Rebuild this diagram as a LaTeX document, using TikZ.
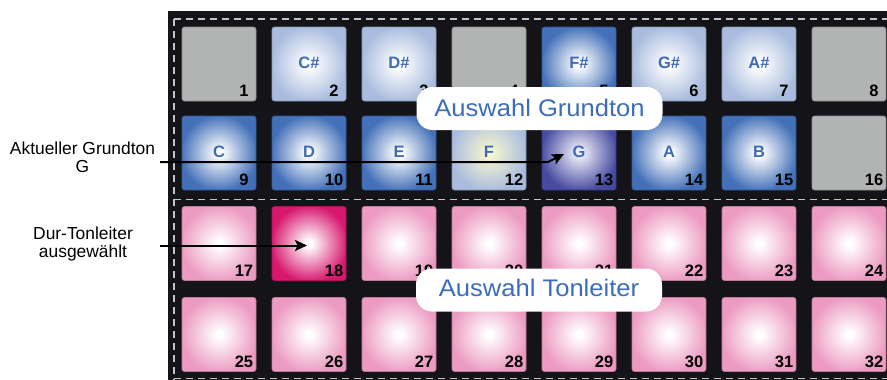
\documentclass[tikz,border=0pt]{standalone}
\usepackage{fontspec}
\setmainfont{Liberation Sans}
\newfontfamily\callfont[FakeStretch=1.065]{Liberation Sans}
\usetikzlibrary{arrows.meta}
\definecolor{panel}{HTML}{141418}
\definecolor{dashc}{HTML}{C4C4C4}
\definecolor{padgray}{HTML}{B2B4B4}
\definecolor{lblue}{HTML}{A9BCDE}
\definecolor{dblue}{HTML}{4370B8}
\definecolor{gblue}{HTML}{464BA0}
\definecolor{gcenter}{HTML}{EEEEF8}
\definecolor{pinkp}{HTML}{EC9AC1}
\definecolor{magp}{HTML}{D8186F}
\definecolor{notec}{HTML}{3F6AB5}
\definecolor{callc}{HTML}{3D6DB8}
\definecolor{fcenter}{HTML}{F6F6CF}
\colorlet{padin}{white}
\colorlet{padout}{gray}
\pgfdeclareradialshading[padin,padout]{padglow}{\pgfpoint{0bp}{0bp}}{color(0bp)=(padin); color(2bp)=(padin); color(26bp)=(padout); color(50bp)=(padout)}
\tikzset{
  pad/.style 2 args={shape=rectangle, rounded corners=2.5pt, minimum width=74pt, minimum height=74pt,
    inner sep=0pt, outer sep=0pt, /utils/exec={\colorlet{padin}{#1}\colorlet{padout}{#2}}, shade, shading=padglow,
    draw=padout!80!black, line width=0.6pt},
  num/.style={anchor=base, inner sep=0pt, font=\fontsize{16.5}{18}\selectfont\bfseries, text=black},
  note/.style={anchor=base, inner sep=0pt, font=\fontsize{16.5}{18}\selectfont\bfseries, text=notec},
  dashline/.style={draw=dashc, line width=1.8pt, dash pattern=on 7pt off 5pt},
  callout/.style={fill=white, rounded corners=16pt, minimum width=246pt, minimum height=43pt, inner sep=0pt,
    text=callc, font=\callfont\fontsize{24}{26}\selectfont, text height=17pt},
  sidelabel/.style={align=center, inner sep=0pt, font=\fontsize{17.4}{17.7}\selectfont, text=black},
  pointer/.style={draw=black, line width=2pt, -{Stealth[length=12pt,width=11pt,inset=2.5pt]}},
}
\begin{document}
\begin{tikzpicture}[x=1pt,y=-1pt]
\useasboundingbox (0,0) rectangle (887,380);
\clip (0,0) rectangle (887,380);
\fill[panel] (168,11) rectangle (900,395);
\draw[dashline] (174,19) -- (900,19);
\draw[dashline] (174,19) -- (174,390);
\draw[dashline] (174,199.5) -- (900,199.5);
\draw[dashline] (174,378.5) -- (900,378.5);
\foreach \n/\x/\y/\ci/\co in {
 1/219/64/padgray/padgray, 2/309/64/white/lblue, 3/399/64/white/lblue, 4/489/64/padgray/padgray,
 5/579/64/white/dblue, 6/669/64/white/lblue, 7/759/64/white/lblue, 8/849/64/padgray/padgray,
 9/219/153/white/dblue, 10/309/153/white/dblue, 11/399/153/white/dblue, 12/489/153/fcenter/lblue,
 13/579/153/gcenter/gblue, 14/669/153/white/dblue, 15/759/153/white/dblue, 16/849/153/padgray/padgray,
 17/219/243.5/white/pinkp, 18/309/243.5/white/magp, 19/399/243.5/white/pinkp, 20/489/243.5/white/pinkp,
 21/579/243.5/white/pinkp, 22/669/243.5/white/pinkp, 23/759/243.5/white/pinkp, 24/849/243.5/white/pinkp,
 25/219/334.5/white/pinkp, 26/309/334.5/white/pinkp, 27/399/334.5/white/pinkp, 28/489/334.5/white/pinkp,
 29/579/334.5/white/pinkp, 30/669/334.5/white/pinkp, 31/759/334.5/white/pinkp, 32/849/334.5/white/pinkp}
{
  \node[pad={\ci}{\co}] (p\n) at (\x,\y) {};
  \node[num] (n\n) at ([xshift=25pt,yshift=4.5pt]p\n.south) {\n};
}
\node[note] (l2) at ([yshift=-4pt]p2.center) {C\#};
\node[note] (l3) at ([yshift=-4pt]p3.center) {D\#};
\node[note] (l5) at ([yshift=-4pt]p5.center) {F\#};
\node[note] (l6) at ([yshift=-4pt]p6.center) {G\#};
\node[note] (l7) at ([yshift=-4pt]p7.center) {A\#};
\node[note] (l9) at ([yshift=-4pt]p9.center) {C};
\node[note] (l10) at ([yshift=-4pt]p10.center) {D};
\node[note] (l11) at ([yshift=-4pt]p11.center) {E};
\node[note] (l12) at ([yshift=-4pt]p12.center) {F};
\node[note] (l13) at ([yshift=-4pt]p13.center) {G};
\node[note] (l14) at ([yshift=-4pt]p14.center) {A};
\node[note] (l15) at ([yshift=-4pt]p15.center) {B};
\node[callout, text depth=2pt] (cg) at (539.5,108.5) {Auswahl Grundton};
\node[callout, text depth=5pt] (ct) at (539,290) {Auswahl Tonleiter};
\node[sidelabel] (sg) at (82.5,157) {Aktueller Grundton\\G};
\node[sidelabel] (st) at (83,244) {Dur-Tonleiter\\ausgewählt};
\coordinate (a1s) at (160,162);
\coordinate (a1b) at (548,162);
\coordinate (a2s) at (160,245.5);
\draw[pointer] (a1s) -- (a1b) -- ([xshift=-15pt,yshift=-1pt]p13.center);
\draw[pointer] (a2s) -- ([xshift=-2pt,yshift=-2pt]p18.center);
\end{tikzpicture}
\end{document}
